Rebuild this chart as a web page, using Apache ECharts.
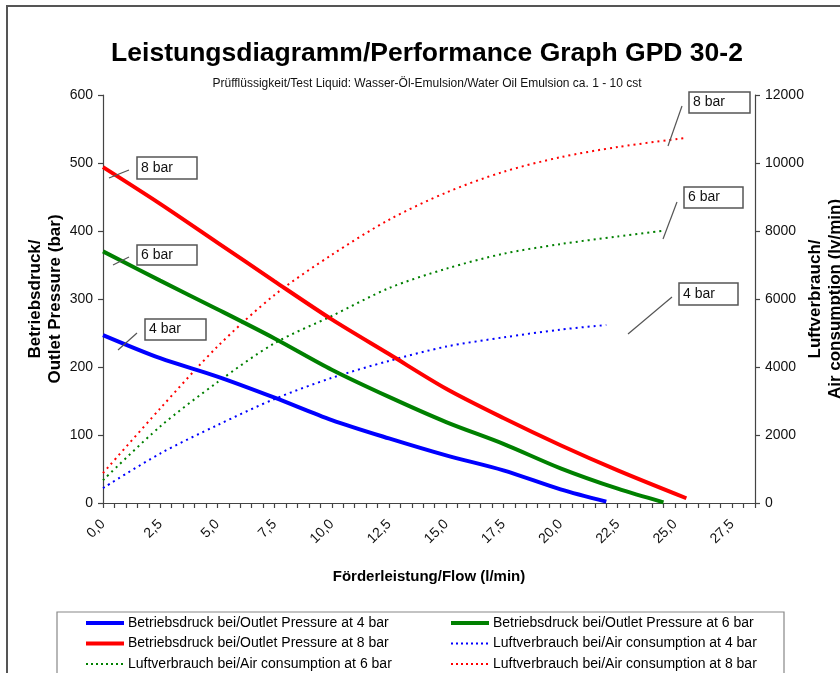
<!DOCTYPE html>
<html>
<head>
<meta charset="utf-8">
<script src="https://cdn.jsdelivr.net/npm/echarts@6/dist/echarts.min.js"></script>
<style>
html,body{margin:0;padding:0;background:#fff;}
#chart{width:840px;height:673px;}
</style>
</head>
<body>
<div id="chart"></div>
<script>
// ---- data ----
const titleText = 'Leistungsdiagramm/Performance Graph GPD 30-2';
const subtitleText = 'Prüfflüssigkeit/Test Liquid: Wasser-Öl-Emulsion/Water Oil Emulsion ca. 1 - 10 cst';
const xName = 'Förderleistung/Flow (l/min)';
const yLeftName = 'Betriebsdruck/\nOutlet Pressure (bar)';
const yRightName = 'Luftverbrauch/\nAir consumption (lv/min)';

const flow4 = [0, 2.5, 5, 7.5, 10, 12.5, 15, 17.5, 20, 22];
const flow6 = [0, 2.5, 5, 7.5, 10, 12.5, 15, 17.5, 20, 22.5, 24.5];
const flow8 = [0, 2.5, 5, 7.5, 10, 12.5, 15, 17.5, 20, 22.5, 25.5];

const pressure4 = [247, 213, 186, 155, 122, 95, 70, 48, 20, 2];
const pressure6 = [370, 327, 285, 242, 196, 156, 119, 87, 51, 21, 1];
const pressure8 = [494, 440, 383, 326, 270, 219, 168, 125, 85, 48, 7];

const air4 = [440, 1455, 2290, 3060, 3680, 4180, 4600, 4870, 5100, 5235];
const air6 = [670, 2250, 3550, 4700, 5500, 6320, 6890, 7330, 7615, 7840, 8010];
const air8 = [880, 2780, 4600, 6120, 7300, 8330, 9130, 9740, 10170, 10470, 10740];

const seriesNames = [
  'Betriebsdruck bei/Outlet Pressure at 4 bar',
  'Betriebsdruck bei/Outlet Pressure at 6 bar',
  'Betriebsdruck bei/Outlet Pressure at 8 bar',
  'Luftverbrauch bei/Air consumption at 4 bar',
  'Luftverbrauch bei/Air consumption at 6 bar',
  'Luftverbrauch bei/Air consumption at 8 bar'
];
const annotationTexts = ['8 bar', '6 bar', '4 bar'];

// ---- build ----
const FONT = "'Liberation Sans', Arial, sans-serif";
const BLUE = '#0000ff', GREEN = '#008000', RED = '#ff0000';
const pairs = (xs, ys) => xs.map((x, i) => [x, ys[i]]);

function solid(name, color, xs, ys) {
  return {
    name, type: 'line', yAxisIndex: 0, data: pairs(xs, ys),
    smooth: 0.3, showSymbol: false, symbol: 'none',
    lineStyle: { color, width: 4 }, itemStyle: { color },
    emphasis: { disabled: true }, z: 3
  };
}
function dotted(name, color, xs, ys) {
  return {
    name, type: 'line', yAxisIndex: 1, data: pairs(xs, ys),
    smooth: 0.3, showSymbol: false, symbol: 'none',
    lineStyle: { color, width: 2, type: [2, 4] }, itemStyle: { color },
    emphasis: { disabled: true }, z: 2
  };
}

function box(x, y, w, h, text, lx1, ly1, lx2, ly2) {
  return [
    { type: 'line', shape: { x1: lx1, y1: ly1, x2: lx2, y2: ly2 }, style: { stroke: '#555', lineWidth: 1.2 }, z: 10 },
    { type: 'rect', shape: { x, y, width: w, height: h }, style: { fill: '#fff', stroke: '#555', lineWidth: 1.5 }, z: 10 },
    { type: 'text', x: x + 4, y: y + h / 2, style: { text, font: '14px ' + FONT, fill: '#111', verticalAlign: 'middle' }, z: 11 }
  ];
}

const axisLine = { show: true, lineStyle: { color: '#444', width: 1.2 } };
const tickStyle = { show: true, length: 5, lineStyle: { color: '#444', width: 1.2 } };
const legendItem = (i) => ({
  name: seriesNames[i],
  lineStyle: i < 3 ? { width: 4 } : { width: 2, type: [2, 3] }
});
const legendCommon = {
  orient: 'vertical', top: 616, itemWidth: 38, itemHeight: 14, itemGap: 6.5,
  selectedMode: false, padding: 0,
  itemStyle: { opacity: 0, color: 'rgba(0,0,0,0)', borderWidth: 0 },
  textStyle: { fontFamily: FONT, fontSize: 14, color: '#000', padding: [0, 0, 0, -1] }
};

const option = {
  backgroundColor: '#fff',
  animation: false,
  title: [
    { text: titleText, left: 422, top: 35, textAlign: 'center',
      textStyle: { fontFamily: FONT, fontSize: 26.5, fontWeight: 'bold', color: '#000' } },
    { text: subtitleText, left: 422, top: 73, textAlign: 'center',
      textStyle: { fontFamily: FONT, fontSize: 12, fontWeight: 'normal', color: '#111' } }
  ],
  grid: { left: 103, right: 85, top: 95, bottom: 170, containLabel: false, outerBoundsMode: 'none' },
  xAxis: {
    type: 'value', min: 0, max: 28.5, interval: 0.5,
    name: xName, nameLocation: 'middle', nameGap: 66, nameMoveOverlap: false,
    nameTextStyle: { fontFamily: FONT, fontSize: 15, fontWeight: 'bold', color: '#000' },
    axisLine, axisTick: tickStyle, splitLine: { show: false },
    axisLabel: {
      rotate: 45, margin: 19, fontFamily: FONT, fontSize: 14, color: '#111',
      formatter: v => (Math.abs(v / 2.5 - Math.round(v / 2.5)) < 1e-6) ? v.toFixed(1).replace('.', ',') : ''
    }
  },
  yAxis: [
    {
      type: 'value', min: 0, max: 600, interval: 100, position: 'left',
      name: yLeftName, nameLocation: 'middle', nameGap: 38, nameRotate: 90, nameMoveOverlap: false,
      nameTextStyle: { fontFamily: FONT, fontSize: 17, fontWeight: 'bold', color: '#000', lineHeight: 20, align: 'center' },
      axisLine, axisTick: tickStyle, splitLine: { show: false },
      axisLabel: { margin: 10, fontFamily: FONT, fontSize: 14, color: '#111', formatter: v => String(v) }
    },
    {
      type: 'value', min: 0, max: 12000, interval: 2000, position: 'right',
      name: yRightName, nameLocation: 'middle', nameGap: 50, nameRotate: 90, nameMoveOverlap: false,
      nameTextStyle: { fontFamily: FONT, fontSize: 17, fontWeight: 'bold', color: '#000', lineHeight: 20, align: 'center' },
      axisLine, axisTick: tickStyle, splitLine: { show: false },
      axisLabel: { margin: 10, fontFamily: FONT, fontSize: 14, color: '#111', formatter: v => String(v) }
    }
  ],
  legend: [
    Object.assign({ data: [legendItem(0), legendItem(2), legendItem(4)], left: 84 }, legendCommon),
    Object.assign({ data: [legendItem(1), legendItem(3), legendItem(5)], left: 449 }, legendCommon)
  ],
  graphic: [
    { type: 'rect', shape: { x: 7, y: 6, width: 1000, height: 1000 }, style: { fill: 'none', stroke: '#555', lineWidth: 2 }, z: 0, silent: true },
    { type: 'rect', shape: { x: 57, y: 612, width: 727, height: 100 }, style: { fill: 'none', stroke: '#888', lineWidth: 1.2 }, z: 0, silent: true },
    ...box(137, 157, 60, 22, annotationTexts[0], 109, 178, 129, 170),
    ...box(137, 245, 60, 20, annotationTexts[1], 113, 265, 129, 257),
    ...box(145, 319, 61, 21, annotationTexts[2], 118, 350, 137, 333),
    ...box(689, 92, 61, 21, annotationTexts[0], 682, 106, 668, 146),
    ...box(684, 187, 59, 21, annotationTexts[1], 677, 202, 663, 239),
    ...box(679, 283, 59, 22, annotationTexts[2], 672, 297, 628, 334)
  ],
  series: [
    solid(seriesNames[0], BLUE, flow4, pressure4),
    solid(seriesNames[1], GREEN, flow6, pressure6),
    solid(seriesNames[2], RED, flow8, pressure8),
    dotted(seriesNames[3], BLUE, flow4, air4),
    dotted(seriesNames[4], GREEN, flow6, air6),
    dotted(seriesNames[5], RED, flow8, air8)
  ]
};

const chart = echarts.init(document.getElementById('chart'), null, { renderer: 'canvas' });
chart.setOption(option);
</script>
</body>
</html>
